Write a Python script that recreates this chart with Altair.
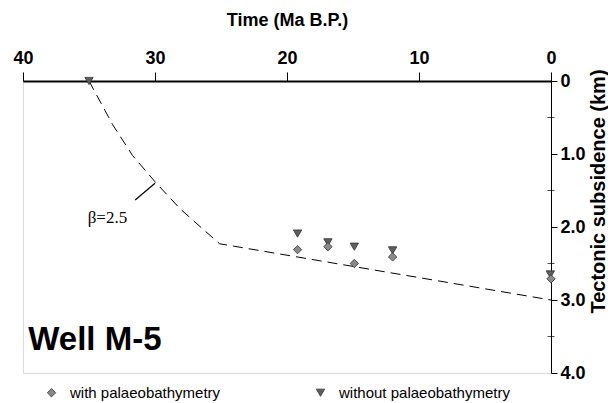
import altair as alt
import pandas as pd

# ---- data ----
curve_t = [35.0, 33.2, 31.7, 30.0, 28.1, 26.3, 25.1, 0.0]
curve_d = [0.0, 0.60, 1.02, 1.38, 1.75, 2.04, 2.23, 3.0]

tri_t = [35.0, 19.2, 16.9, 14.9, 12.0, 0.05]
tri_d = [0.0, 2.09, 2.21, 2.27, 2.32, 2.65]

dia_t = [19.2, 16.9, 14.9, 12.0, 0.0]
dia_d = [2.31, 2.27, 2.50, 2.41, 2.71]

x_ticks = [0, 10, 20, 30, 40]
y_ticks = [0, 1, 2, 3, 4]
y_minor = [0.5, 1.5, 2.5, 3.5]

series_names = ["with palaeobathymetry", "without palaeobathymetry"]

beta_label = {"t": 35.1, "d": 1.88, "label": "β=2.5"}
leader = {"t": 31.5, "d": 1.63, "t2": 30.0, "d2": 1.40}
well_label = {"t": 39.6, "d": 3.68, "label": "Well M-5"}

FONT = "Liberation Sans"

curve_df = pd.DataFrame({"t": curve_t, "d": curve_d, "o": list(range(len(curve_t)))})
pts_df = pd.DataFrame(
    {
        "t": tri_t + dia_t,
        "d": tri_d + dia_d,
        "kind": [series_names[1]] * len(tri_t) + [series_names[0]] * len(dia_t),
    }
)
minor_df = pd.DataFrame({"t": [0.0] * len(y_minor), "d": y_minor})
beta_df = pd.DataFrame([beta_label])
leader_df = pd.DataFrame([leader])
well_df = pd.DataFrame([well_label])

xscale = alt.Scale(domain=[0, 40], reverse=True, nice=False, zero=False)
yscale = alt.Scale(domain=[0, 4], reverse=True, nice=False, zero=False)

x_enc = alt.X(
    "t:Q",
    scale=xscale,
    axis=alt.Axis(
        orient="top",
        values=x_ticks,
        format="d",
        title="Time (Ma B.P.)",
        titleFont=FONT,
        titleFontSize=18,
        titleFontWeight="bold",
        titleColor="black",
        titlePadding=20,
        labelFont=FONT,
        labelFontSize=18,
        labelFontWeight="bold",
        labelColor="black",
        labelPadding=5,
        labelFlush=False,
        labelOverlap=False,
        tickSize=9,
        tickColor="black",
        tickWidth=1,
        domainColor="black",
        domainWidth=2,
        grid=False,
    ),
)
y_enc = alt.Y(
    "d:Q",
    scale=yscale,
    axis=alt.Axis(
        orient="right",
        values=y_ticks,
        labelExpr="datum.value == 0 ? '0' : format(datum.value, '.1f')",
        title="Tectonic subsidence (km)",
        titleFont=FONT,
        titleFontSize=20,
        titleFontWeight="bold",
        titleColor="black",
        titleAngle=270,
        titleBaseline="top",
        titleAlign="center",
        titleY=110,
        titlePadding=3,
        labelFont=FONT,
        labelFontSize=18,
        labelFontWeight="bold",
        labelColor="black",
        labelPadding=3,
        labelFlush=False,
        labelOverlap=False,
        tickSize=6,
        tickColor="black",
        domainColor="black",
        domainWidth=1,
        grid=False,
    ),
)
x_plain = alt.X("t:Q", scale=xscale)
y_plain = alt.Y("d:Q", scale=yscale)

curve = (
    alt.Chart(curve_df)
    .mark_line(color="black", strokeWidth=1, strokeDash=[10, 6])
    .encode(x=x_enc, y=y_enc, order="o:Q")
)

minor = (
    alt.Chart(minor_df)
    .mark_tick(orient="horizontal", size=7, thickness=1, color="black")
    .encode(x=x_plain, y=y_plain)
)

legend_cfg = dict(
    title=None,
    orient="none",
    legendX=21,
    legendY=304,
    direction="horizontal",
    columnPadding=92,
    labelFont=FONT,
    labelFontSize=15,
    labelColor="black",
    labelOffset=11,
    labelLimit=400,
    symbolSize=70,
    symbolStrokeColor="#333333",
    symbolStrokeWidth=0.8,
    padding=0,
)

points = (
    alt.Chart(pts_df)
    .mark_point(filled=True, size=70, opacity=1, stroke="#333333", strokeWidth=0.8)
    .encode(
        x=x_plain,
        y=y_plain,
        shape=alt.Shape(
            "kind:N",
            scale=alt.Scale(domain=series_names, range=["diamond", "triangle-down"]),
            legend=alt.Legend(**legend_cfg),
        ),
        color=alt.Color(
            "kind:N",
            scale=alt.Scale(domain=series_names, range=["#8a8a8a", "#5e5e5e"]),
            legend=alt.Legend(**legend_cfg),
        ),
    )
)

beta = (
    alt.Chart(beta_df)
    .mark_text(font="Liberation Serif", fontSize=17, align="left", baseline="middle", color="black")
    .encode(x=x_plain, y=y_plain, text="label:N")
)

lead = (
    alt.Chart(leader_df)
    .mark_rule(color="black", strokeWidth=1.2)
    .encode(x=x_plain, y=y_plain, x2="t2:Q", y2="d2:Q")
)

well = (
    alt.Chart(well_df)
    .mark_text(font=FONT, fontSize=33, fontWeight="bold", align="left", baseline="alphabetic", color="black")
    .encode(x=x_plain, y=y_plain, text="label:N")
)

chart = (
    alt.layer(curve, minor, points, beta, lead, well)
    .properties(
        width=528,
        height=292,
        autosize=alt.AutoSizeParams(type="none"),
        padding={"left": 15, "top": 73, "right": 57, "bottom": 30},
    )
    .configure_view(stroke="#555555", strokeWidth=1)
    .configure(background="white")
)

chart.save("out.html", embed_options={"renderer": "svg", "actions": False})
